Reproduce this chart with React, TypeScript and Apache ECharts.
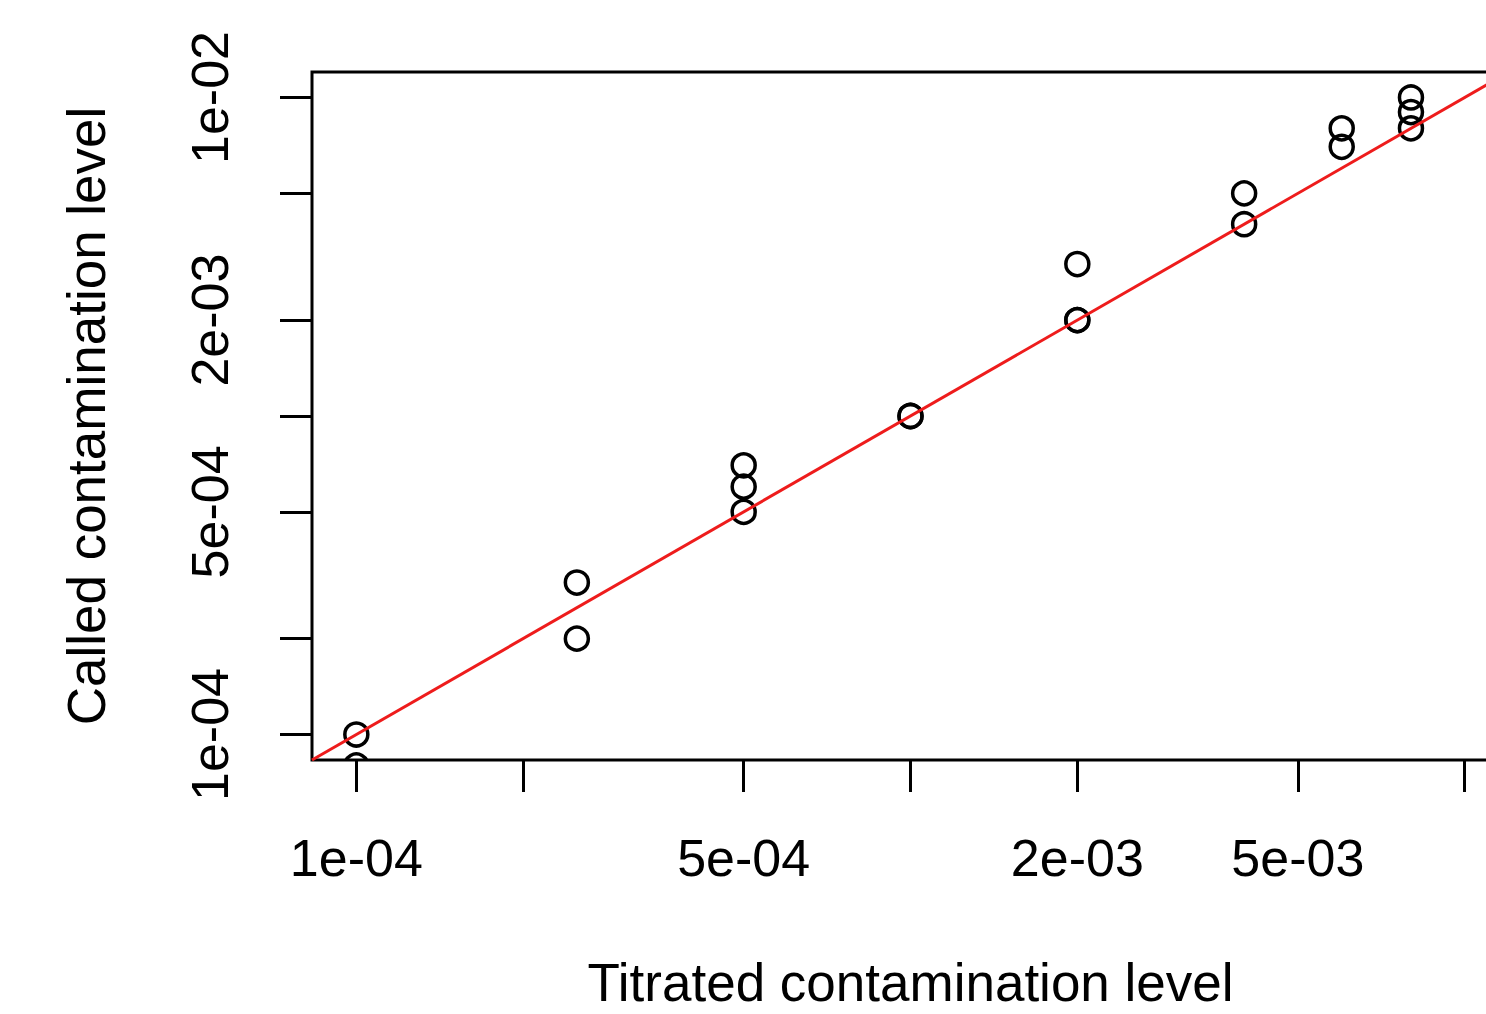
import React, { useEffect, useRef } from "react";
import * as echarts from "echarts";

// Titrated (x) vs called (y) contamination levels
const titrated = [1e-4, 1e-4, 2.5e-4, 2.5e-4, 5e-4, 5e-4, 5e-4, 1e-3, 1e-3, 2e-3, 2e-3, 2e-3, 4e-3, 4e-3, 6e-3, 6e-3, 8e-3, 8e-3, 8e-3];
const called = [1e-4, 8e-5, 3e-4, 2e-4, 7e-4, 6e-4, 5e-4, 1e-3, 1e-3, 3e-3, 2e-3, 2e-3, 5e-3, 4e-3, 8e-3, 7e-3, 1e-2, 9e-3, 8e-3];

const axisLimits = [1e-4, 1e-2]; // R xlim/ylim, expanded 4% each side in log space
const tickValues = [1e-4, 2e-4, 5e-4, 1e-3, 2e-3, 5e-3, 1e-2];
const xLabelValues = [1e-4, 5e-4, 2e-3, 5e-3];
const xLabelTexts = ["1e-04", "5e-04", "2e-03", "5e-03"];
const yLabelValues = [1e-4, 5e-4, 2e-3, 1e-2];
const yLabelTexts = ["1e-04", "5e-04", "2e-03", "1e-02"];

const FONT = "'Liberation Sans', Arial, Helvetica, sans-serif";

function labelFor(values: number[], texts: string[]) {
  return (v: number) => {
    let best = 0;
    let bd = Infinity;
    values.forEach((val, i) => {
      const d = Math.abs(Math.log10(val) - v);
      if (d < bd) {
        bd = d;
        best = i;
      }
    });
    return texts[best];
  };
}

export default function App() {
  const ref = useRef<HTMLDivElement>(null);
  useEffect(() => {
    if (!ref.current) return;
    const chart = echarts.init(ref.current, null, { renderer: "svg" });
    const lo = Math.log10(axisLimits[0]);
    const hi = Math.log10(axisLimits[1]);
    const ext = (hi - lo) * 0.04;
    const min = lo - ext;
    const max = hi + ext;
    const pts = titrated.map((x, i) => [Math.log10(x), Math.log10(called[i])]);
    const ticks = tickValues.map((v) => Math.log10(v));

    const common = {
      type: "value",
      min,
      max,
      splitLine: { show: false },
      axisLine: { show: false },
      axisTick: {
        show: true,
        customValues: ticks,
        length: 32,
        lineStyle: { color: "#000", width: 3 },
      },
    };

    chart.setOption({
      animation: false,
      backgroundColor: "#fff",
      grid: {
        left: 312,
        top: 72,
        bottom: 252,
        right: 31,
        show: true,
        borderColor: "#000",
        borderWidth: 3,
        backgroundColor: "transparent",
      },
      xAxis: {
        ...common,
        name: "Titrated contamination level",
        nameLocation: "middle",
        nameGap: 196,
        nameTextStyle: { fontFamily: FONT, fontSize: 53, color: "#000" },
        axisLabel: {
          customValues: xLabelValues.map((v) => Math.log10(v)),
          formatter: labelFor(xLabelValues, xLabelTexts),
          fontFamily: FONT,
          fontSize: 52,
          color: "#000",
          margin: 72,
        },
      },
      yAxis: {
        ...common,
        name: "Called contamination level",
        nameLocation: "middle",
        nameGap: 199,
        nameRotate: 90,
        nameTextStyle: { fontFamily: FONT, fontSize: 53, color: "#000" },
        axisLabel: {
          customValues: yLabelValues.map((v) => Math.log10(v)),
          formatter: labelFor(yLabelValues, yLabelTexts),
          fontFamily: FONT,
          fontSize: 52,
          color: "#000",
          rotate: 90,
          margin: 76,
        },
      },
      series: [
        {
          type: "custom",
          clip: true,
          data: pts,
          encode: { x: 0, y: 1 },
          renderItem: (params: any, api: any) => {
            const p = api.coord([api.value(0), api.value(1)]);
            return {
              type: "circle",
              shape: { cx: p[0], cy: p[1], r: 11.5 },
              style: { fill: "none", stroke: "#000", lineWidth: 3.5 },
            };
          },
          z: 2,
        },
        {
          type: "line",
          data: [
            [min, min],
            [max, max],
          ],
          symbol: "none",
          lineStyle: { color: "#ee1c1c", width: 3 },
          clip: true,
          z: 3,
        },
      ],
    });
    return () => chart.dispose();
  }, []);
  return (
    <div
      style={{
        position: "fixed",
        left: 0,
        top: 0,
        width: 1486,
        height: 1014,
        overflow: "hidden",
        background: "#fff",
      }}
    >
      <div ref={ref} style={{ width: 1540, height: 1014 }} />
    </div>
  );
}
